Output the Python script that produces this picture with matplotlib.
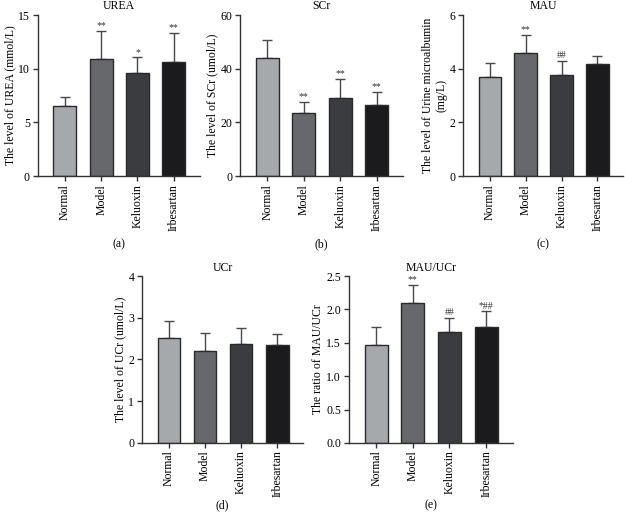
import numpy as np
import matplotlib
matplotlib.use('Agg')
import matplotlib.pyplot as plt

plt.rcParams['font.family'] = ['Liberation Serif', 'DejaVu Serif']

groups = ['Normal', 'Model', 'Keluoxin', 'Irbesartan']
colors = ['#a6a9ac', '#67686c', '#3b3c40', '#1b1b1d']

urea_mean = [6.55, 10.95, 9.6, 10.6]
urea_top = [7.4, 13.55, 11.05, 13.35]
urea_marks = ['', '**', '*', '**']

scr_mean = [44.0, 23.5, 29.2, 26.6]
scr_top = [50.7, 27.7, 36.1, 31.4]
scr_marks = ['', '**', '**', '**']

mau_mean = [3.69, 4.6, 3.75, 4.17]
mau_top = [4.22, 5.27, 4.29, 4.48]
mau_marks = ['', '**', '##', '']

ucr_mean = [2.52, 2.2, 2.37, 2.34]
ucr_top = [2.93, 2.63, 2.76, 2.61]
ucr_marks = ['', '', '', '']

ratio_mean = [1.46, 2.09, 1.66, 1.73]
ratio_top = [1.74, 2.36, 1.87, 1.97]
ratio_marks = ['', '**', '##', '*##']

fig = plt.figure(figsize=(6.25, 5.18), dpi=100)

def panel(rect, mean, top, marks, title, ylabel, ymax, yticks, letter, letter_off, fmt='%g'):
    ax = fig.add_axes(rect)
    x = np.arange(len(groups))
    mean = np.array(mean)
    err = np.array(top) - mean
    ax.bar(x, mean, width=0.63, color=colors, edgecolor='#2a2a2a', linewidth=1.0, zorder=2)
    ax.errorbar(x, mean, yerr=[np.zeros_like(mean), err], fmt='none', ecolor='#4a4a4a',
                elinewidth=1.0, capsize=3.5, capthick=1.0, zorder=1)
    for xi, t, m in zip(x, top, marks):
        if m:
            ax.text(xi, t + ymax * 0.005, m, ha='center', va='bottom', fontsize=7, color='#333333')
    ax.set_xlim(-0.75, 3.72)
    ax.set_ylim(0, ymax)
    ax.set_yticks(yticks)
    ax.set_yticklabels([fmt % v for v in yticks])
    ax.set_xticks(x)
    ax.set_xticklabels(groups, rotation=90)
    ax.spines['top'].set_visible(False)
    ax.spines['right'].set_visible(False)
    for s in ['left', 'bottom']:
        ax.spines[s].set_color('#333333')
        ax.spines[s].set_linewidth(1.0)
    ax.tick_params(direction='out', length=3.5, width=1.0, color='#333333', labelsize=8.5, pad=2)
    ax.set_title(title, fontsize=8.5, pad=4)
    ax.set_ylabel(ylabel, fontsize=8.5, labelpad=1.5)
    ax.annotate(letter, xy=(0.5, 0), xycoords='axes fraction', xytext=(0, -letter_off),
                textcoords='offset points', ha='center', va='center', fontsize=8.5)
    return ax

panel([0.06, 0.660, 0.260, 0.311], urea_mean, urea_top, urea_marks, 'UREA',
      'The level of UREA (mmol/L)', 15, [0, 5, 10, 15], '(a)', 49)
panel([0.384, 0.660, 0.261, 0.311], scr_mean, scr_top, scr_marks, 'SCr',
      'The level of SCr (umol/L)', 60, [0, 20, 40, 60], '(b)', 49)
panel([0.741, 0.660, 0.256, 0.311], mau_mean, mau_top, mau_marks, 'MAU',
      'The level of Urine microalbumin\n(mg/L)', 6, [0, 2, 4, 6], '(c)', 49)
panel([0.227, 0.145, 0.258, 0.322], ucr_mean, ucr_top, ucr_marks, 'UCr',
      'The level of UCr (umol/L)', 4, [0, 1, 2, 3, 4], '(d)', 45)
panel([0.558, 0.145, 0.262, 0.322], ratio_mean, ratio_top, ratio_marks, 'MAU/UCr',
      'The ratio of MAU/UCr', 2.5, [0, 0.5, 1.0, 1.5, 2.0, 2.5], '(e)', 45, fmt='%.1f')

fig.savefig('out.png', dpi=100)
